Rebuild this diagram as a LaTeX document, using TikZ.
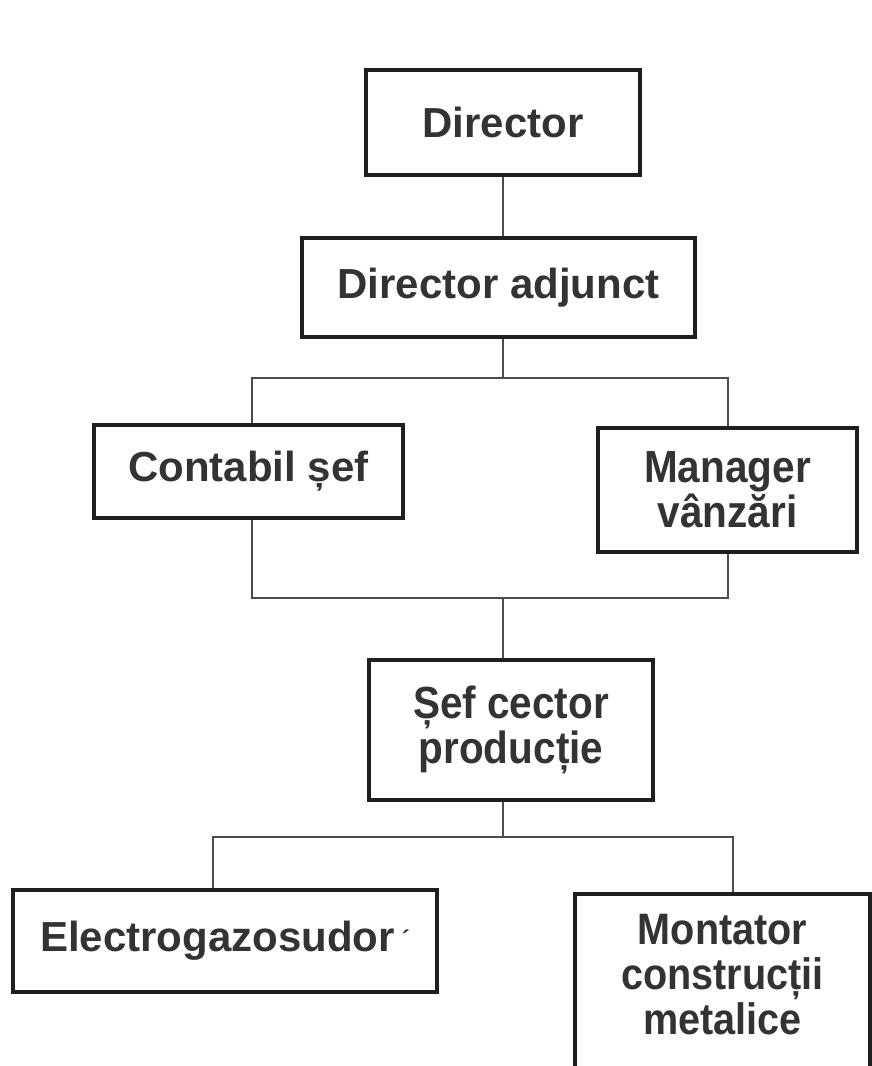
\documentclass[tikz,border=0pt]{standalone}
\usepackage{fontspec}
\setmainfont{Liberation Sans}
\newfontfamily\narrowbold[FakeStretch=0.9]{Liberation Sans}
\newcommand{\tightlines}{\lineskiplimit=-60pt\relax}
\usetikzlibrary{calc}

\begin{document}
\begin{tikzpicture}[x=1pt,y=-1pt,
        post/.style={draw=black!88,line width=4pt,fill=white,inner sep=0pt,
            text=black!80,align=center,font=\bfseries\fontsize{42}{42}\selectfont},
        tallpost/.style={post,font=\narrowbold\bfseries\fontsize{45}{#1}\selectfont\tightlines},
        link/.style={draw=black!70,line width=2pt}]
        \useasboundingbox (0,0) rectangle (871,1066);
        \fill[white] (0,0) rectangle (871,1066);

        % Nodurile
        \node[post,minimum width=274pt,minimum height=105pt] (dir) at (503,122.5) {Director};
        \node[post,minimum width=393pt,minimum height=99pt] (adj) at (498.5,287.5) {Director adjunct};
        \node[post,minimum width=309pt,minimum height=93pt] (cont) at (248.5,471.5) {Contabil șef};
        \node[tallpost=45,minimum width=259pt,minimum height=124pt] (mgr) at (727.5,490) {Manager\\vânzări};
        \node[tallpost=45,minimum width=284pt,minimum height=140pt] (sef) at (511,730) {Șef cector\\producție};
        \node[post,minimum width=424pt,minimum height=102pt] (elec) at (225,941) {Electrogazosudor\,\raisebox{4pt}{\fontsize{24}{24}\selectfont´}};
        \node[post,minimum width=295pt,inner ysep=20pt,text depth=30pt,anchor=north,
            font=\narrowbold\bfseries\fontsize{44}{45}\selectfont\tightlines] (mont) at (722.5,892) {Montator\\construcții\\metalice};

        % Punctele de ramificare
        \coordinate (bA) at (503,378);
        \coordinate (cL) at (252,378);
        \coordinate (mR) at (728,378);
        \coordinate (bB) at (503,598);
        \coordinate (cL2) at (252,598);
        \coordinate (mR2) at (728,598);
        \coordinate (bC) at (503,837);
        \coordinate (eL) at (213,837);
        \coordinate (tR) at (733,837);

        \draw[link] (dir.south -| bA) -- (adj.north -| bA);
        \draw[link] (adj.south -| bA) -- (bA);
        \draw[link] (cont.north -| cL) -- (cL) -- (mR) -- (mgr.north -| mR);
        \draw[link] (cont.south -| cL2) -- (cL2) -- (mR2) -- (mgr.south -| mR2);
        \draw[link] (bB) -- (sef.north -| bB);
        \draw[link] (sef.south -| bC) -- (bC);
        \draw[link] (elec.north -| eL) -- (eL) -- (tR) -- (mont.north -| tR);

    \end{tikzpicture}
\end{document}
